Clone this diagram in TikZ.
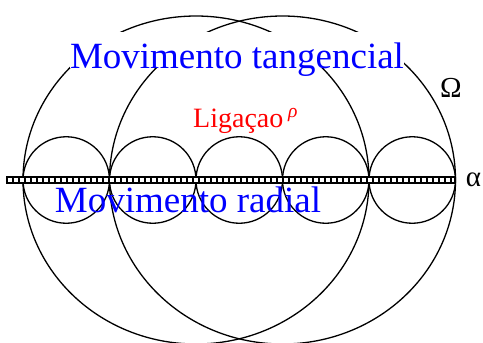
\documentclass[tikz,border=0pt]{standalone}
\usepackage{fontspec}
\setmainfont{Liberation Serif}
\begin{document}
\begin{tikzpicture}[x=1pt,y=-1pt,line cap=round]
  % Colors
  \colorlet{movecolor}{blue}
  \colorlet{bondcolor}{red}

  % Styles
  \tikzstyle{orbit}=[line width=1.3pt]
  \tikzstyle{rod}=[line width=8pt,line cap=butt]
  \tikzstyle{rod cells}=[line width=4.5pt,white,line cap=butt,dash pattern=on 4pt off 2pt]
  \tikzstyle{move text}=[text=movecolor,font=\fontsize{37}{40}\selectfont,inner sep=0pt,anchor=base]
  \tikzstyle{greek text}=[font=\fontsize{29}{32}\selectfont,inner sep=0pt]

  \useasboundingbox (0,0) rectangle (483,343);

  % The graphic
  \draw[style=orbit] (196,180) ellipse (173 and 164);
  \draw[style=orbit] (282.5,180) ellipse (173 and 164);

  \foreach \x in {66.25,152.75,239.25,325.75,412.25}
    \draw[style=orbit] (\x,180) circle (43.25);

  \draw[style=rod] (6,180) -- (455,180);
  \draw[style=rod cells] (7.5,180) -- (453.5,180);

  \node[style=move text,fill=white,text height=36pt,text depth=0pt,minimum width=334pt]
    (tangencial) at (237,68) {Movimento tangencial};
  \node[style=move text] (radial) at (188,212) {Movimento radial};

  \node[text=bondcolor,font=\fontsize{28}{31}\selectfont,inner sep=0pt,anchor=base west]
    (ligacao) at (193,127) {Ligaçao\,\textsuperscript{\itshape ρ}};

  \node[style=greek text] (omega) at (451,88) {Ω};
  \node[style=greek text] (alpha) at (473.5,180) {α};
\end{tikzpicture}
\end{document}
